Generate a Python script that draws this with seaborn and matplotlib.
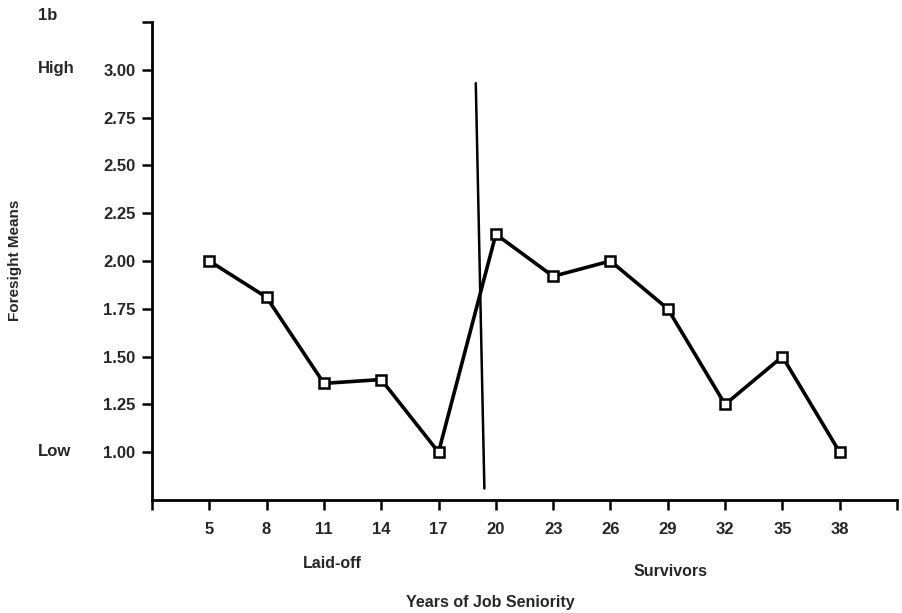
import matplotlib
matplotlib.use('Agg')
import matplotlib.pyplot as plt
import seaborn as sns
import pandas as pd

# data
years = [5, 8, 11, 14, 17, 20, 23, 26, 29, 32, 35, 38]
foresight = [2.00, 1.81, 1.36, 1.38, 1.00, 2.14, 1.92, 2.00, 1.75, 1.25, 1.50, 1.00]
x_ticks = [2, 5, 8, 11, 14, 17, 20, 23, 26, 29, 32, 35, 38, 41]
x_labels = [''] + [str(v) for v in years] + ['']
y_ticks = [1.00, 1.25, 1.50, 1.75, 2.00, 2.25, 2.50, 2.75, 3.00, 3.25]
divider_x = [18.95, 19.4]
divider_y = [2.93, 0.81]

df = pd.DataFrame({'years': years, 'foresight': foresight})

sns.set_style('white')
plt.rcParams['font.family'] = ['Liberation Sans', 'DejaVu Sans']
plt.rcParams['font.weight'] = 'bold'

fig = plt.figure(figsize=(9.03, 6.13), dpi=100)
ax = fig.add_axes([152 / 903, 1 - 500 / 613, 745 / 903, 478 / 613])

sns.lineplot(data=df, x='years', y='foresight', ax=ax, color='black',
             linewidth=2.6, marker='s', markersize=7, markerfacecolor='white',
             markeredgecolor='black', markeredgewidth=1.8)

# separator between laid-off and survivors
ax.plot(divider_x, divider_y, color='black', linewidth=1.8)

ax.set_xlim(2, 41)
ax.set_ylim(0.75, 3.25)
ax.set_xticks(x_ticks)
ax.set_xticklabels(x_labels)
ax.set_yticks(y_ticks)
ax.set_yticklabels([f'{v:.2f}' for v in y_ticks[:-1]] + [''])
ax.tick_params(axis='both', direction='out', length=7, width=1.8,
               labelsize=12, color='black', left=True, bottom=True)
for lbl in ax.get_xticklabels() + ax.get_yticklabels():
    lbl.set_fontweight('bold')
ax.tick_params(axis='x', pad=9)
ax.tick_params(axis='y', pad=5)

sns.despine(ax=ax)
ax.spines['left'].set_linewidth(2)
ax.spines['bottom'].set_linewidth(2)
ax.spines['left'].set_color('black')
ax.spines['bottom'].set_color('black')

ax.set_xlabel('')
ax.set_ylabel('Foresight Means', fontsize=11, fontweight='bold')
ax.yaxis.set_label_coords((22 - 152) / 745, (500 - 260) / 478)

fig.text(38 / 903, 1 - 15 / 613, '1b', fontsize=12, fontweight='bold', va='center')
fig.text(38 / 903, 1 - 68 / 613, 'High', fontsize=12, fontweight='bold', va='center')
fig.text(38 / 903, 1 - 452 / 613, 'Low', fontsize=12, fontweight='bold', va='center')
fig.text(332 / 903, 1 - 563 / 613, 'Laid-off', fontsize=11.5, fontweight='bold',
         ha='center', va='center')
fig.text(671 / 903, 1 - 571 / 613, 'Survivors', fontsize=11.5, fontweight='bold',
         ha='center', va='center')
fig.text(490 / 903, 1 - 602 / 613, 'Years of Job Seniority', fontsize=11.5,
         fontweight='bold', ha='center', va='center')

fig.savefig('out.png', dpi=100, facecolor='white')
